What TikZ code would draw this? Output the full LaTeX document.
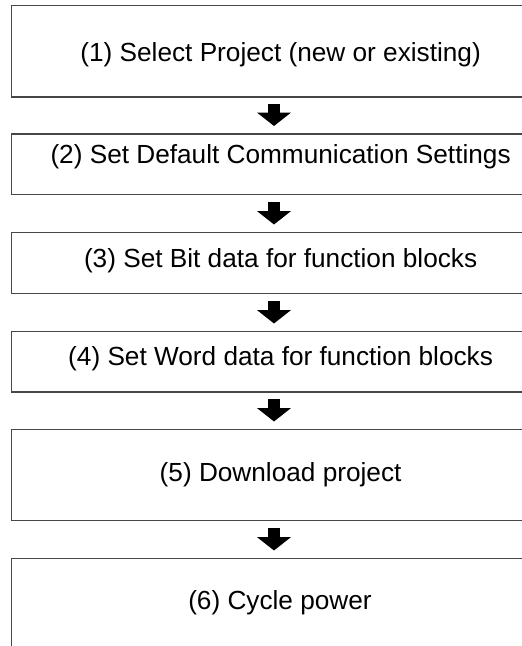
\documentclass[tikz,border=0pt]{standalone}
\usepackage{fontspec}
\setmainfont{Liberation Sans}
\usetikzlibrary{arrows.meta,calc}
\tikzset{
  stepbox/.style={draw=black!72, line width=1.2pt, minimum width=538pt, inner sep=0pt,
    anchor=north west},
  steptext/.style={inner sep=0pt, font=\fontsize{26.2}{30}\selectfont},
  flowarrow/.style={line width=12.7pt, black, -{Triangle[width=33pt,length=13.3pt]}},
}
\begin{document}
\begin{tikzpicture}[x=1pt,y=1pt]
\useasboundingbox (0,0) rectangle (522,646);
\clip (0,0) rectangle (522,646);
\coordinate (ax) at (274,0);
\node[stepbox, minimum height=91.8pt] (b1) at (11,641.3) {};
\node[stepbox, minimum height=60.5pt] (b2) at (11,512.5) {};
\node[stepbox, minimum height=61pt]   (b3) at (11,414)   {};
\node[stepbox, minimum height=60.5pt] (b4) at (11,315)   {};
\node[stepbox, minimum height=91pt]   (b5) at (11,217)   {};
\node[stepbox, minimum height=110pt]  (b6) at (11,88)    {};
\node[steptext] (t1) at ($(b1.center)+(0,-4)$) {(1) Select Project (new or existing)};
\node[steptext] (t2) at ($(b2.center)+(0,8)$)  {(2) Set Default Communication Settings};
\node[steptext] (t3) at ($(b3.center)+(0,2)$)  {(3) Set Bit data for function blocks};
\node[steptext] (t4) at ($(b4.center)+(0,3)$)  {(4) Set Word data for function blocks};
\node[steptext] (t5) at (b5.center)            {(5) Download project};
\node[steptext] (t6) at (280,43)               {(6) Cycle power};
\draw[flowarrow] ($(b1.south -| ax)+(0,-6.8)$) -- ($(b2.north -| ax)+(0,7.5)$);
\draw[flowarrow] ($(b2.south -| ax)+(0,-6.8)$) -- ($(b3.north -| ax)+(0,7.5)$);
\draw[flowarrow] ($(b3.south -| ax)+(0,-6.8)$) -- ($(b4.north -| ax)+(0,7.5)$);
\draw[flowarrow] ($(b4.south -| ax)+(0,-6.8)$) -- ($(b5.north -| ax)+(0,7.5)$);
\draw[flowarrow] ($(b5.south -| ax)+(0,-6.8)$) -- ($(b6.north -| ax)+(0,7.5)$);
\end{tikzpicture}
\end{document}
